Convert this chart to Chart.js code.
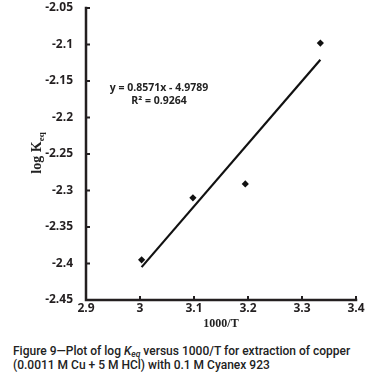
<!DOCTYPE html>
<html>
<head>
<meta charset="utf-8">
<script src="https://cdn.jsdelivr.net/npm/chart.js@4.4.1/dist/chart.umd.min.js"></script>
<style>
  html, body { margin: 0; padding: 0; background: #fff; }
  #wrap { position: relative; width: 376px; height: 334px; }
  #cap { position: absolute; left: 13px; top: 345px; width: 362px;
         font-family: Roboto, "Liberation Sans", sans-serif; font-weight: 500;
         font-size: 12px; line-height: 13.5px; color: #222; }
  #cap sub { font-size: 8.5px; vertical-align: -2px; line-height: 0; }
</style>
</head>
<body>
<div id="wrap"><canvas id="c" width="376" height="334"></canvas></div>
<div id="cap">Figure 9—Plot of log <i>K<sub>eq</sub></i> versus 1000/T for extraction of copper<br>(0.0011 M Cu + 5 M HCl) with 0.1 M Cyanex 923</div>
<script>
// Data
const xValues = [3.003, 3.098, 3.195, 3.334];
const logKeq = [-2.395, -2.310, -2.291, -2.098];
// Linear trend line endpoints (y = 0.8571x - 4.9789)
const trendX = [3.003, 3.334];
const trendY = [-2.405, -2.121];
const xTicks = [2.9, 3.0, 3.1, 3.2, 3.3, 3.4];
const yTicks = [-2.05, -2.1, -2.15, -2.2, -2.25, -2.3, -2.35, -2.4, -2.45];
const equationText = "y = 0.8571x - 4.9789";
const r2Text = "R² = 0.9264";
const xTitle = "1000/T";

const AX = '#231f20';

const extrasPlugin = {
  id: 'extras',
  afterDraw(chart) {
    const ctx = chart.ctx;
    const xs = chart.scales.x, ys = chart.scales.y;
    const a = chart.chartArea;
    ctx.save();
    ctx.strokeStyle = AX; ctx.lineWidth = 2.5; ctx.lineCap = 'square';
    ctx.beginPath();
    ctx.moveTo(a.left, a.top); ctx.lineTo(a.left, a.bottom); ctx.lineTo(a.right, a.bottom);
    ctx.stroke();
    ctx.lineWidth = 2; ctx.lineCap = 'butt';
    xTicks.forEach(v => {
      const px = xs.getPixelForValue(v);
      ctx.beginPath(); ctx.moveTo(px, a.bottom + 1); ctx.lineTo(px, a.bottom - 4); ctx.stroke();
    });
    yTicks.forEach(v => {
      const py = ys.getPixelForValue(v);
      ctx.beginPath(); ctx.moveTo(a.left - 1, py); ctx.lineTo(a.left + 4, py); ctx.stroke();
    });
    ctx.fillStyle = '#222';
    ctx.font = 'bold 10.5px "Open Sans", sans-serif';
    ctx.textAlign = 'center'; ctx.textBaseline = 'middle';
    const cx = 159;
    ctx.fillText(equationText, cx, 88);
    ctx.fillText(r2Text, cx, 101);
    ctx.translate(36, 153);
    ctx.rotate(-Math.PI / 2);
    const f1 = 'bold 14px "Liberation Serif", serif';
    const f2 = 'bold 9px "Liberation Serif", serif';
    ctx.font = f1; const w1 = ctx.measureText('log K').width;
    ctx.font = f2; const w2 = ctx.measureText('eq').width;
    const start = -(w1 + w2) / 2;
    ctx.textAlign = 'left'; ctx.textBaseline = 'alphabetic';
    ctx.font = f1; ctx.fillText('log K', start, 5);
    ctx.font = f2; ctx.fillText('eq', start + w1, 8);
    ctx.restore();
  }
};

new Chart(document.getElementById('c'), {
  type: 'scatter',
  data: {
    datasets: [
      {
        data: xValues.map((x, i) => ({ x: x, y: logKeq[i] })),
        pointStyle: 'rectRot', pointRadius: 3.6, pointHoverRadius: 3.6,
        backgroundColor: '#111', borderColor: '#111', borderWidth: 0,
        showLine: false, order: 1
      },
      {
        type: 'line',
        data: trendX.map((x, i) => ({ x: x, y: trendY[i] })),
        borderColor: '#111', borderWidth: 2.2, pointRadius: 0,
        showLine: true, fill: false, order: 2
      }
    ]
  },
  options: {
    responsive: false, animation: false,
    layout: { padding: { top: 8, right: 20, left: 0, bottom: 0 } },
    plugins: { legend: { display: false }, tooltip: { enabled: false } },
    scales: {
      x: {
        type: 'linear', min: 2.9, max: 3.4,
        afterBuildTicks: s => { s.ticks = xTicks.map(v => ({ value: v })); },
        afterFit: s => { s.height = 34; s.paddingLeft = 0; s.paddingRight = 0; },
        grid: { display: false, drawTicks: false },
        border: { display: false },
        ticks: { padding: 1, maxRotation: 0, autoSkip: false, color: '#231f20',
                 font: { family: '"Open Sans", sans-serif', weight: 'bold', size: 12 },
                 callback: v => String(Math.round(v * 10) / 10) },
        title: { display: true, text: xTitle, color: '#222', padding: { top: 0, bottom: 3 },
                 font: { family: '"Liberation Serif", serif', weight: 'bold', size: 12 } }
      },
      y: {
        type: 'linear', min: -2.45, max: -2.05,
        afterBuildTicks: s => { s.ticks = yTicks.map(v => ({ value: v })); },
        afterFit: s => { s.width = 86; s.paddingTop = 0; s.paddingBottom = 0; },
        grid: { display: false, drawTicks: false },
        border: { display: false },
        ticks: { padding: 13, autoSkip: false, color: '#231f20',
                 font: { family: '"Open Sans", sans-serif', weight: 'bold', size: 12 },
                 callback: v => String(Math.round(v * 100) / 100) }
      }
    }
  },
  plugins: [extrasPlugin]
});
</script>
</body>
</html>
